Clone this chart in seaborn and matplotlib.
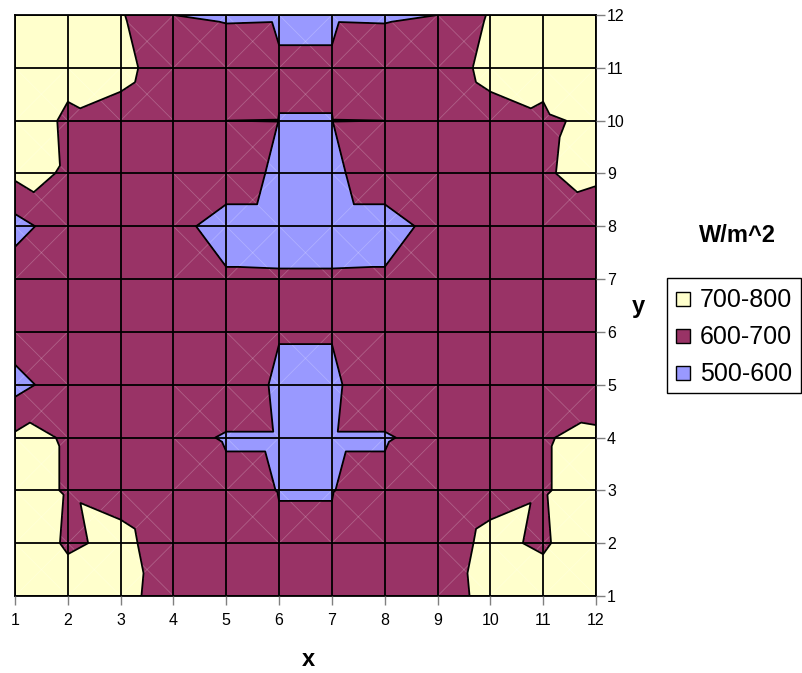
import numpy as np
import pandas as pd
import seaborn as sns
import matplotlib
matplotlib.use("Agg")
import matplotlib.pyplot as plt
import matplotlib.tri as mtri
from matplotlib.patches import Rectangle

xs = list(range(1, 13))
ys = list(range(1, 13))

# W/m^2, one list per y row (bottom row first), x = 1..12
y1 = [760, 738, 726, 660, 640, 630, 630, 640, 660, 726, 738, 760]
y2 = [757, 690, 716, 666, 630, 604, 604, 630, 666, 716, 690, 757]
y3 = [726, 695, 680, 657, 614, 599, 599, 614, 657, 680, 695, 726]
y4 = [717, 695, 660, 619, 595, 595, 595, 595, 619, 660, 695, 717]
y5 = [565, 657, 650, 640, 640, 590, 590, 640, 640, 650, 657, 645]
y6 = [657, 655, 650, 640, 625, 603, 603, 625, 640, 650, 655, 657]
y7 = [658, 655, 650, 640, 606, 605, 605, 606, 640, 650, 655, 658]
y8 = [563, 660, 650, 615, 580, 580, 580, 580, 615, 650, 660, 630]
y9 = [722, 693, 660, 640, 628, 590, 590, 628, 640, 660, 693, 722]
y10 = [740, 690, 660, 612, 600, 599.5, 599.5, 600, 612, 660, 690, 713]
y11 = [760, 718, 733, 634, 626, 603, 603, 626, 634, 733, 718, 773]
y12 = [770, 750, 709, 600, 595, 596, 596, 595, 600, 709, 750, 770]

levels = [500, 600, 700, 800]
band_labels = ['500-600', '600-700', '700-800']
band_colors = ['#9999FF', '#993366', '#FFFFCC']

df = pd.DataFrame([y1, y2, y3, y4, y5, y6, y7, y8, y9, y10, y11, y12],
                  index=ys, columns=xs)
Z = df.to_numpy(dtype=float)
X, Y = np.meshgrid(xs, ys)
n = len(xs)

# excel-like surface: every cell cut in two along the diagonal with the higher mean
tris = []
for j in range(len(ys) - 1):
    for i in range(n - 1):
        a, b = j * n + i, j * n + i + 1
        c, d = (j + 1) * n + i + 1, (j + 1) * n + i
        if Z[j, i] + Z[j + 1, i + 1] >= Z[j, i + 1] + Z[j + 1, i]:
            tris += [[a, b, c], [a, c, d]]
        else:
            tris += [[a, b, d], [b, c, d]]
tri = mtri.Triangulation(X.ravel(), Y.ravel(), tris)

sns.set_theme(style="white")
plt.rcParams['font.family'] = ['Liberation Sans', 'DejaVu Sans']
plt.rcParams['text.color'] = 'black'

W, H = 802, 673
fig = plt.figure(figsize=(W / 100, H / 100), dpi=100)
ax = fig.add_axes([15 / W, 77 / H, 581 / W, 581 / H])

ax.tricontourf(tri, Z.ravel(), levels=levels, colors=band_colors)
ax.tricontour(tri, Z.ravel(), levels=[600, 700], colors='black', linewidths=1.3)

# faint seams that excel leaves in the cells that get split
for j in range(len(ys) - 1):
    for i in range(n - 1):
        cell = Z[j:j + 2, i:i + 2]
        if any(cell.min() < lv < cell.max() for lv in (600, 700)):
            ax.plot([xs[i], xs[i + 1]], [ys[j], ys[j + 1]], color='white',
                    alpha=0.22, lw=0.6, zorder=1.5)
            ax.plot([xs[i], xs[i + 1]], [ys[j + 1], ys[j]], color='white',
                    alpha=0.22, lw=0.6, zorder=1.5)

ax.set_xlim(1, 12)
ax.set_ylim(1, 12)
ax.set_xticks(xs)
ax.set_yticks(ys)
ax.grid(True, color='black', lw=1.3)
ax.set_axisbelow(False)
for s in ax.spines.values():
    s.set_color('black')
    s.set_linewidth(1.3)

ax.yaxis.tick_right()
ax.tick_params(axis='both', direction='out', length=6.5, width=1,
               color='#808080', labelsize=11.5, labelcolor='black')
ax.tick_params(axis='x', bottom=True, top=False, pad=5.5)
ax.tick_params(axis='y', right=True, left=False, pad=1.5)


def fx(px):
    return px / W


def fy(py):
    return 1 - py / H


fig.text(fx(308), fy(666), 'x', fontsize=17, fontweight='bold',
         ha='center', va='baseline', color='black')
fig.text(fx(638), fy(313), 'y', fontsize=17, fontweight='bold',
         ha='center', va='baseline', color='black')
fig.text(fx(737), fy(242), 'W/m^2', fontsize=17, fontweight='bold',
         ha='center', va='baseline', color='black')

# legend box, top entry first
fig.add_artist(Rectangle((fx(667), fy(393)), (801 - 667) / W, (393 - 278) / H,
                         transform=fig.transFigure, facecolor='white',
                         edgecolor='black', lw=1))
for k, (lab, col) in enumerate(zip(band_labels[::-1], band_colors[::-1])):
    cy = 299 + 37 * k
    fig.add_artist(Rectangle((fx(676), fy(cy + 7)), 14 / W, 14 / H,
                             transform=fig.transFigure, facecolor=col,
                             edgecolor='black', lw=1))
    fig.text(fx(700), fy(cy + 8), lab, fontsize=18, ha='left', va='baseline',
             color='black')

fig.savefig('out.png', dpi=100)
